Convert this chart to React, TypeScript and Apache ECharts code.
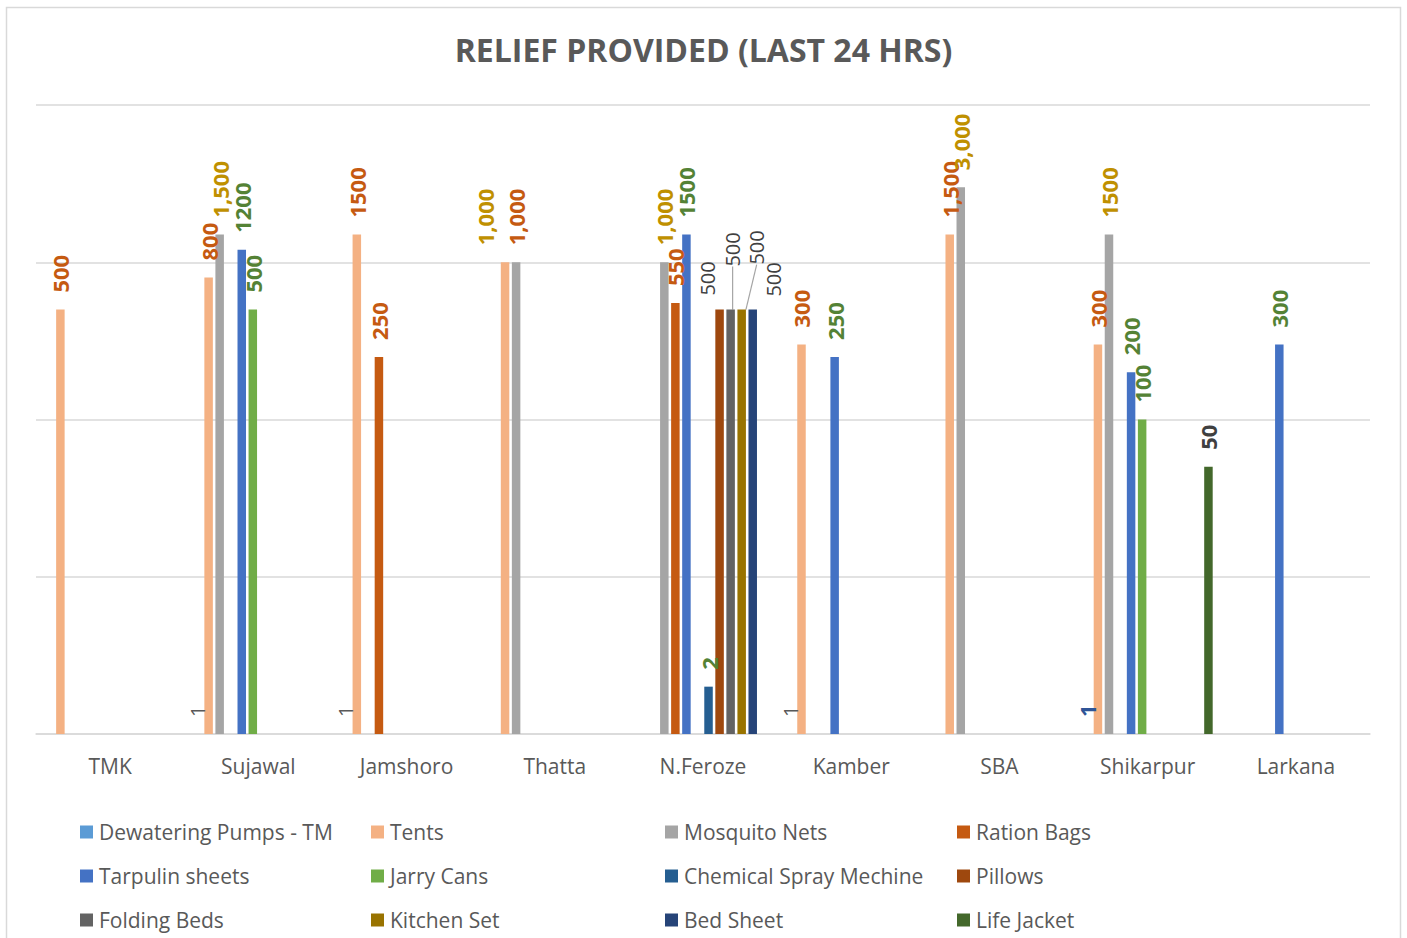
import React, { useEffect, useRef } from "react";
import * as echarts from "echarts";

const categories = ["TMK", "Sujawal", "Jamshoro", "Thatta", "N.Feroze", "Kamber", "SBA", "Shikarpur", "Larkana"];

const seriesNames = [
  "Dewatering Pumps - TM", "Tents", "Mosquito Nets", "Ration Bags",
  "Tarpulin sheets", "Jarry Cans", "Chemical Spray Mechine", "Pillows",
  "Folding Beds", "Kitchen Set", "Bed Sheet", "Life Jacket",
];

const dewateringPumps = [null, 1, 1, null, null, 1, null, 1, null];
const tents = [500, 800, 1500, 1000, null, 300, 1500, 300, null];
const mosquitoNets = [null, 1500, null, 1000, 1000, null, 3000, 1500, null];
const rationBags = [null, null, 250, null, 550, null, null, null, null];
const tarpulinSheets = [null, 1200, null, null, 1500, 250, null, 200, 300];
const jarryCans = [null, 500, null, null, null, null, null, 100, null];
const chemicalSpray = [null, null, null, null, 2, null, null, null, null];
const pillows = [null, null, null, null, 500, null, null, null, null];
const foldingBeds = [null, null, null, null, 500, null, null, null, null];
const kitchenSet = [null, null, null, null, 500, null, null, null, null];
const bedSheet = [null, null, null, null, 500, null, null, null, null];
const lifeJacket = [null, null, null, null, null, null, null, 50, null];

const seriesValues = [
  dewateringPumps, tents, mosquitoNets, rationBags, tarpulinSheets, jarryCans,
  chemicalSpray, pillows, foldingBeds, kitchenSet, bedSheet, lifeJacket,
];

const barColors = [
  "#5B9BD5", "#F4B183", "#A5A5A5", "#C55A11", "#4472C4", "#70AD47",
  "#255E91", "#9E480E", "#636363", "#997300", "#264478", "#43682B",
];

const ORANGE = "#C55A11";
const GOLD = "#BF9000";
const GREEN = "#548235";
const GRAY = "#595959";
const DARK = "#404040";
const BLUE = "#2F5597";

// label styling per "seriesIndex-categoryIndex"; dx/dy are screen offsets in px
type LS = { color: string; bold?: boolean; sep?: boolean; dx?: number; dy?: number };
const labelStyles: Record<string, LS> = {
  "0-1": { color: GRAY, bold: false },
  "0-2": { color: GRAY, bold: false },
  "0-5": { color: GRAY, bold: false },
  "0-7": { color: BLUE },
  "1-0": { color: ORANGE },
  "1-1": { color: ORANGE },
  "1-2": { color: ORANGE },
  "1-3": { color: GOLD, sep: true, dx: -20 },
  "1-5": { color: ORANGE },
  "1-6": { color: ORANGE, sep: true },
  "1-7": { color: ORANGE },
  "2-1": { color: GOLD, sep: true },
  "2-3": { color: ORANGE, sep: true },
  "2-4": { color: GOLD, sep: true },
  "2-6": { color: GOLD, sep: true },
  "2-7": { color: GOLD },
  "3-2": { color: ORANGE },
  "3-4": { color: ORANGE },
  "4-1": { color: GREEN },
  "4-4": { color: GREEN },
  "4-5": { color: GREEN },
  "4-7": { color: GREEN },
  "4-8": { color: GREEN },
  "5-1": { color: GREEN },
  "5-7": { color: GREEN },
  "6-4": { color: GREEN },
  "7-4": { color: DARK, bold: false, dx: -12, dy: 3 },
  "8-4": { color: DARK, bold: false, dx: 2, dy: -26 },
  "9-4": { color: DARK, bold: false, dx: 15, dy: -28 },
  "10-4": { color: DARK, bold: false, dx: 21, dy: 4 },
  "11-7": { color: DARK },
};
const leaderSeries = [8, 9];

const FONT = "'Open Sans', sans-serif";
const legendCols = [80, 371, 665, 957];
const legendRows = [832, 876, 920];

function fmt(v: number, sep?: boolean) {
  if (!sep) return String(v);
  return String(v).replace(/\B(?=(\d{3})+(?!\d))/g, ",");
}

export default function App() {
  const ref = useRef<HTMLDivElement>(null);
  useEffect(() => {
    if (!ref.current) return;
    const chart = echarts.init(ref.current, undefined, { renderer: "svg" });

    const series = seriesNames.map((name, s) => ({
      name,
      type: "bar",
      barWidth: 8.5,
      barGap: "30%",
      itemStyle: { color: barColors[s] },
      data: seriesValues[s].map((v, c) => {
        if (v === null) return null;
        const st = labelStyles[`${s}-${c}`] || { color: GRAY };
        return {
          value: v,
          label: {
            color: st.color,
            fontWeight: st.bold === false ? "normal" : "bold",
            fontSize: st.bold === false ? 20 : 22,
          },
        };
      }),
      label: {
        show: true,
        position: "top",
        rotate: 90,
        align: "left",
        verticalAlign: "middle",
        distance: 17,
        fontFamily: FONT,
        formatter: (p: any) => {
          const st = labelStyles[`${s}-${p.dataIndex}`];
          return fmt(p.value, st && st.sep);
        },
      },
      // label is rotated 90deg, so its local offsets are turned: local dx = -screen dy, local dy = screen dx
      labelLayout: (p: any) => {
        const st = labelStyles[`${s}-${p.dataIndex}`];
        if (st && (st.dx || st.dy)) return { dx: -(st.dy || 0), dy: st.dx || 0 };
        return {};
      },
      labelLine: {
        show: leaderSeries.includes(s),
        lineStyle: { color: "#A5A5A5", width: 1.2 },
      },
    }));

    const legends = seriesNames.map((name, i) => ({
      data: [name],
      left: legendCols[i % 4],
      top: legendRows[Math.floor(i / 4)] - 12,
      icon: "rect",
      itemWidth: 13,
      itemHeight: 13,
      itemGap: 0,
      padding: 0,
      selectedMode: false,
      textStyle: { color: GRAY, fontSize: 21, fontFamily: FONT, lineHeight: 24, padding: [0, 0, 0, 1] },
    }));

    chart.setOption({
      animation: false,
      backgroundColor: "#FFFFFF",
      title: {
        text: "RELIEF PROVIDED (LAST 24 HRS)",
        left: "center",
        top: 28,
        textStyle: { color: GRAY, fontSize: 32, fontWeight: "bold", fontFamily: FONT },
      },
      graphic: [
        {
          type: "rect",
          shape: { x: 6.5, y: 7.5, width: 1394, height: 940 },
          style: { fill: "none", stroke: "#D9D9D9", lineWidth: 1.5 },
          silent: true,
        },
      ],
      legend: legends,
      grid: { left: 36, right: 37, top: 105, bottom: 204, containLabel: false },
      xAxis: {
        type: "category",
        data: categories,
        axisLine: { show: true, lineStyle: { color: "#D9D9D9", width: 1.5 } },
        axisTick: { show: false },
        axisLabel: { color: GRAY, fontSize: 21, fontFamily: FONT, margin: 21 },
      },
      yAxis: {
        type: "log",
        logBase: 10,
        min: 1,
        max: 10000,
        axisLine: { show: false },
        axisTick: { show: false },
        axisLabel: { show: false },
        splitLine: { show: true, lineStyle: { color: "#D9D9D9", width: 1.5 } },
      },
      series,
    });
    return () => chart.dispose();
  }, []);
  return (
    <div
      ref={ref}
      style={{ position: "fixed", left: 0, top: 0, width: 1407, height: 938, background: "#fff" }}
    />
  );
}
